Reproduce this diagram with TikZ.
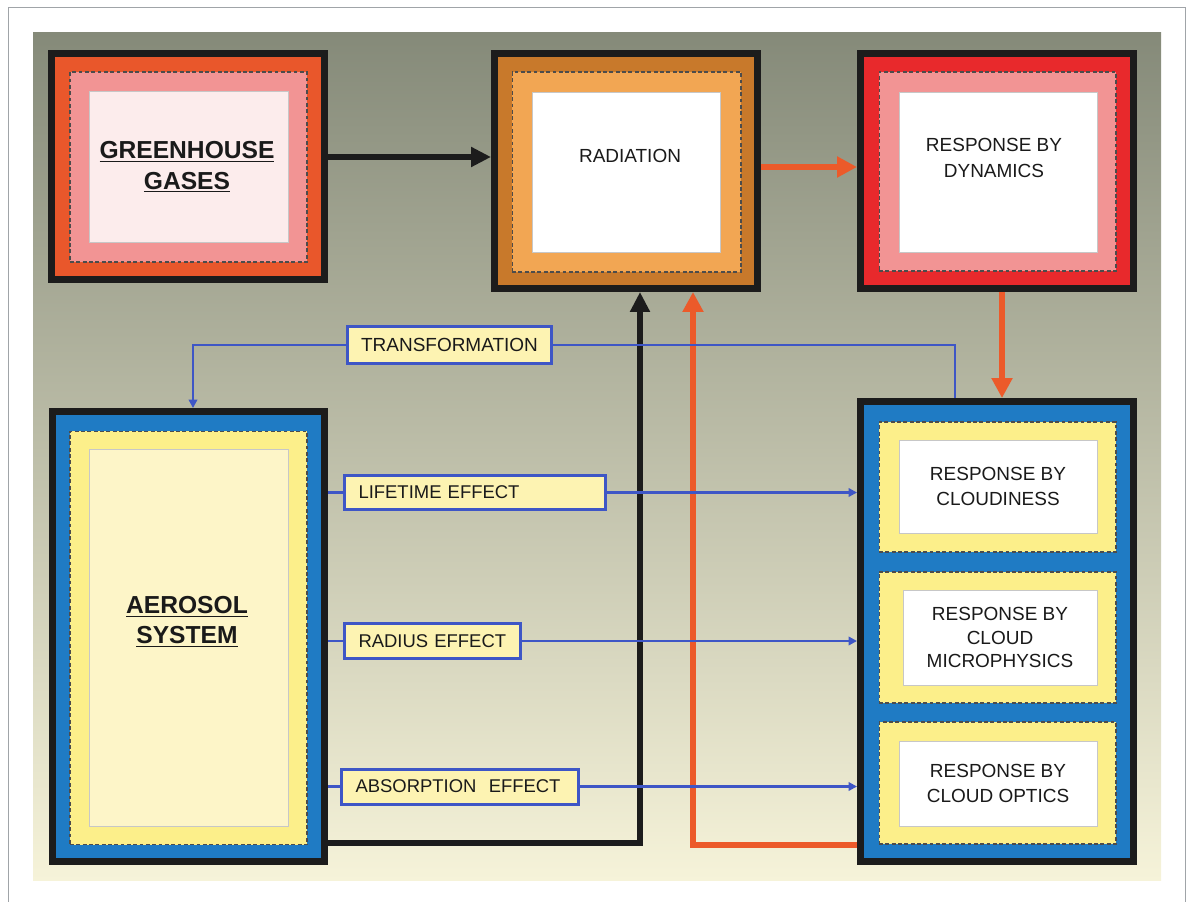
\documentclass[tikz,border=0pt]{standalone}
\usepackage{fontspec}
\setmainfont{Liberation Sans}
\usetikzlibrary{arrows.meta,calc}
\definecolor{bgtop}{HTML}{858A79}
\definecolor{bgmid}{HTML}{C3C3A6}
\definecolor{bgbot}{HTML}{F6F3D9}
\definecolor{framegray}{HTML}{A0A4A8}
\definecolor{boxblack}{HTML}{1C1C1C}
\definecolor{ghred}{HTML}{E9572B}
\definecolor{pinkmid}{HTML}{F29494}
\definecolor{pinkin}{HTML}{FCECEC}
\definecolor{radbrown}{HTML}{C8792B}
\definecolor{radmid}{HTML}{F2A653}
\definecolor{dynred}{HTML}{E8292C}
\definecolor{bluebox}{HTML}{1F7BC4}
\definecolor{yellowmid}{HTML}{FCEF8A}
\definecolor{yellowin}{HTML}{FDF5C8}
\definecolor{orangeline}{HTML}{EC5A2A}
\definecolor{blueline}{HTML}{3E56C6}
\definecolor{lblfill}{HTML}{FDF3B2}
\definecolor{txt}{HTML}{1A1A1A}
\begin{document}
\begin{tikzpicture}[x=0.02cm,y=-0.02cm,
  outerbox/.style={draw=boxblack,line width=0.14cm,inner sep=0pt},
  dashbox/.style={draw=black!70,line width=0.6pt,dash pattern=on 2.2pt off 1.4pt,inner sep=0pt},
  innerbox/.style={draw=black!22,line width=0.5pt,inner sep=0pt,align=center,text=txt,
    font=\fontsize{10.8}{14}\selectfont},
  titletext/.style={align=center,text=txt,inner sep=0pt,font=\bfseries\fontsize{14}{17.5}\selectfont},
  plaintext/.style={align=center,text=txt,inner sep=0pt,font=\fontsize{10.8}{15}\selectfont},
  lbl/.style={draw=blueline,line width=0.06cm,fill=lblfill,inner xsep=0.28cm,inner ysep=0pt,
    minimum height=0.70cm,align=left,text=txt,font=\fontsize{10.5}{12}\selectfont},
  bline/.style={draw=blueline,line width=0.05cm},
  smalltip/.style={-{Triangle[length=0.17cm,width=0.17cm]}},
  oline/.style={draw=orangeline,line width=0.11cm,line join=miter,-{Triangle[length=0.40cm,width=0.40cm]}},
  kline/.style={draw=boxblack,line width=0.11cm,line join=miter,-{Triangle[length=0.40cm,width=0.38cm]}}
]
\useasboundingbox (0,0) rectangle (1187,902);
\clip (0,0) rectangle (1187,902);
% background panel and frame
\shade[top color=bgtop,middle color=bgmid,bottom color=bgbot] (33,33) rectangle (1161,880);
\draw[framegray,line width=0.02cm] (8,920) -- (8,8) -- (1185,8) -- (1185,920);

% Greenhouse gases
\node[outerbox,fill=ghred,minimum width=5.46cm,minimum height=4.52cm] (gh) at (188,166.5) {};
\node[dashbox,fill=pinkmid,minimum width=4.74cm,minimum height=3.80cm] (ghm) at (188.5,167) {};
\node[innerbox,fill=pinkin,minimum width=3.98cm,minimum height=3.02cm] (ghi) at (188.5,166.5) {};
\node[titletext] (ght) at (187,167) {\underline{GREENHOUSE}\\\underline{GASES}};

% Radiation
\node[outerbox,fill=radbrown,minimum width=5.26cm,minimum height=4.70cm] (rad) at (626,171) {};
\node[dashbox,fill=radmid,minimum width=4.58cm,minimum height=4.00cm] (radm) at (626.5,172) {};
\node[innerbox,fill=white,minimum width=3.76cm,minimum height=3.20cm] (radi) at (626,172) {};
\node[plaintext] (radt) at (630,156) {RADIATION};

% Response by dynamics
\node[outerbox,fill=dynred,minimum width=5.46cm,minimum height=4.70cm] (dyn) at (997,171) {};
\node[dashbox,fill=pinkmid,minimum width=4.74cm,minimum height=3.98cm] (dynm) at (997.5,171.5) {};
\node[innerbox,fill=white,minimum width=3.96cm,minimum height=3.20cm] (dyni) at (998,172) {};
\node[plaintext] (dynt) at (994,158) {RESPONSE BY\\DYNAMICS};

% Cloud responses
\node[outerbox,fill=bluebox,minimum width=5.46cm,minimum height=9.20cm] (cloud) at (997,631.5) {};
\node[dashbox,fill=yellowmid,minimum width=4.74cm,minimum height=2.60cm] (c1m) at (997.5,487) {};
\node[innerbox,fill=white,minimum width=3.96cm,minimum height=1.86cm] (c1) at (998,486.5) {RESPONSE BY\\CLOUDINESS};
\node[dashbox,fill=yellowmid,minimum width=4.74cm,minimum height=2.62cm] (c2m) at (997.5,637.5) {};
\node[innerbox,fill=white,minimum width=3.88cm,minimum height=1.90cm,
  font=\fontsize{10.8}{13.2}\selectfont] (c2) at (1000,637.5) {RESPONSE BY\\CLOUD\\MICROPHYSICS};
\node[dashbox,fill=yellowmid,minimum width=4.74cm,minimum height=2.44cm] (c3m) at (997.5,783) {};
\node[innerbox,fill=white,minimum width=3.96cm,minimum height=1.70cm] (c3) at (998,783.5) {RESPONSE BY\\CLOUD OPTICS};

% Aerosol system
\node[outerbox,fill=bluebox,minimum width=5.44cm,minimum height=9.00cm] (aer) at (188.5,636.5) {};
\node[dashbox,fill=yellowmid,minimum width=4.74cm,minimum height=8.28cm] (aerm) at (188.5,638) {};
\node[innerbox,fill=yellowin,minimum width=3.98cm,minimum height=7.54cm] (aeri) at (188.5,637.5) {};
\node[titletext,font=\bfseries\fontsize{14}{17}\selectfont] (aert) at (187,622) {\underline{AEROSOL}\\\underline{SYSTEM}};

% effect labels
\node[lbl,align=center,inner xsep=0pt,minimum width=4.08cm,minimum height=0.74cm,font=\fontsize{10.8}{12}\selectfont] (trans) at (449.5,345) {TRANSFORMATION};
\node[lbl,text width=4.66cm] (life) at (475,492.5) {LIFETIME EFFECT};
\node[lbl,text width=2.96cm] (radius) at (432.5,641) {RADIUS EFFECT};
\node[lbl,text width=4.18cm] (absorb) at (460,786.5) {ABSORPTION\ \ EFFECT};

% coordinates for bends
\coordinate (gr) at (400,157);
\coordinate (rd) at (800,167);
\coordinate (dc) at (1002,340);
\coordinate (tr) at (955,345);
\coordinate (tl) at (193,345);
\coordinate (bk) at (640,843);
\coordinate (ok) at (693,845);

% black and orange connectors
\draw[kline] (gh.east |- gr) -- (rad.west |- gr);
\draw[oline] (rad.east |- rd) -- (dyn.west |- rd);
\draw[oline] (dyn.south -| dc) -- (cloud.north -| dc);
\draw[kline] (aer.east |- bk) -- (bk) -- (rad.south -| bk);
\draw[oline] (cloud.west |- ok) -- (ok) -- (rad.south -| ok);

% blue connectors
\draw[bline] (cloud.north -| tr) -- (tr) -- (trans.east);
\draw[bline,smalltip] (trans.west) -- (tl) -- (aer.north -| tl);
\draw[bline] (aer.east |- life.west) -- (life.west);
\draw[bline,smalltip] (life.east) -- (cloud.west |- life.east);
\draw[bline] (aer.east |- radius.west) -- (radius.west);
\draw[bline,smalltip] (radius.east) -- (cloud.west |- radius.east);
\draw[bline] (aer.east |- absorb.west) -- (absorb.west);
\draw[bline,smalltip] (absorb.east) -- (cloud.west |- absorb.east);
\end{tikzpicture}
\end{document}
